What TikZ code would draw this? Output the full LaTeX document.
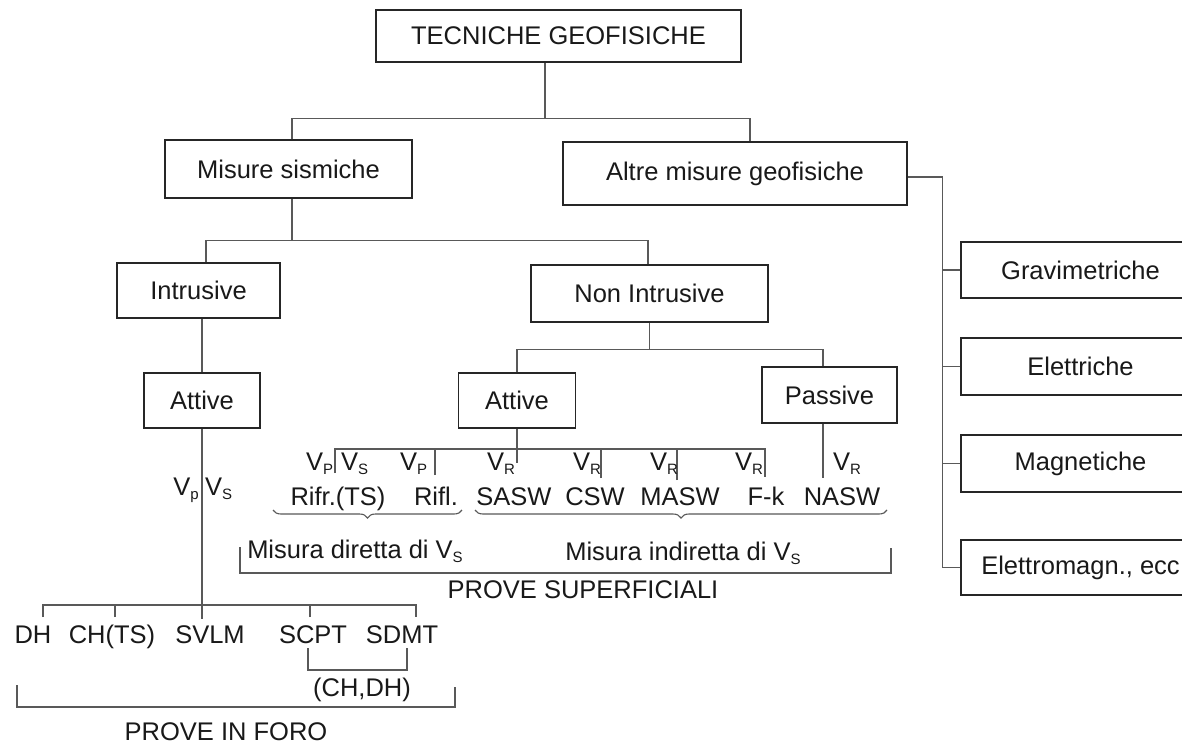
\documentclass[tikz,border=0pt]{standalone}
\usepackage{fontspec}
\setmainfont{Liberation Sans}
\usetikzlibrary{decorations.pathreplacing}
\newcommand{\sbx}[1]{\raisebox{-4pt}{\fontsize{15}{15}\selectfont #1}}
\begin{document}
\begin{tikzpicture}[x=1pt,y=-1pt,
  box/.style={draw=black!85,line width=1.5pt,inner sep=0pt,font=\fontsize{25.5}{30}\selectfont,text=black!90},
  lbl/.style={inner sep=0pt,font=\fontsize{25.5}{30}\selectfont,text=black!90},
  conn/.style={draw=black!65,line width=1.1pt},
  brc/.style={conn,decorate,decoration={brace,mirror,amplitude=8pt}}]
\clip (0,0) rectangle (1182,745);
\fill[white] (0,0) rectangle (1182,745);

% boxes
\node[box,minimum width=365,minimum height=52] (tg) at (558.5,36) {TECNICHE GEOFISICHE};
\node[box,minimum width=247,minimum height=58] (ms) at (288.5,169) {Misure sismiche};
\node[box,minimum width=344,minimum height=63] (am) at (735,173.5) {Altre misure geofisiche};
\node[box,minimum width=163,minimum height=55] (intr) at (198.5,290.5) {Intrusive};
\node[box,minimum width=237,minimum height=57] (ni) at (649.5,293.5) {Non Intrusive};
\node[box,minimum width=116,minimum height=55] (at1) at (202,400.5) {Attive};
\node[box,minimum width=117,minimum height=55] (at2) at (517,400.5) {Attive};
\node[box,minimum width=135,minimum height=56] (pa) at (829.5,395) {Passive};
\node[box,minimum width=239,minimum height=56] (gr) at (1080.5,270) {Gravimetriche};
\node[box,minimum width=239,minimum height=57] (el) at (1080.5,366.5) {Elettriche};
\node[box,minimum width=239,minimum height=57] (mg) at (1080.5,463.5) {Magnetiche};
\node[box,minimum width=239,minimum height=55] (em) at (1080.5,567.5) {Elettromagn., ecc};

% top level connectors
\draw[conn] ([xshift=-13.5pt]tg.south) -- ++(0,56) coordinate (j1);
\draw[conn] ([xshift=3.5pt]ms.north) |- (j1) -| ([xshift=15pt]am.north);
\draw[conn] ([xshift=3.5pt]ms.south) -- ++(0,42) coordinate (j2);
\draw[conn] ([xshift=7.5pt]intr.north) |- (j2) -| ([xshift=-1.5pt]ni.north);
\draw[conn] ([yshift=-3.5pt]am.east) -- ++(35,0) coordinate (j3);
\draw[conn] (j3) |- (em.west);
\draw[conn] (gr.west) -- (gr.west -| j3);
\draw[conn] (el.west) -- (el.west -| j3);
\draw[conn] (mg.west) -- (mg.west -| j3);
\draw[conn] (at1.north) -- (at1.north |- intr.south);
\draw[conn] (ni.south) -- ++(0,27) coordinate (j4);
\draw[conn] (at2.north) |- (j4) -| ([xshift=-6.5pt]pa.north);

% left branch: prove in foro
\coordinate (lb) at (202,605);
\coordinate (t1) at (43,617);
\coordinate (t2) at (115,617);
\coordinate (t3) at (202,619);
\coordinate (t4) at (310,617);
\coordinate (t5) at (416,617);
\draw[conn] (at1.south) -- (t3);
\draw[conn] (t1) |- (lb) -| (t5);
\draw[conn] (t2) -- (t2 |- lb);
\draw[conn] (t4) -- (t4 |- lb);
\node[lbl,anchor=base east] (vpl) at (199,495) {V\sbx{p}};
\node[lbl,anchor=base west] (vsl) at (205,495) {V\sbx{S}};
\node[lbl,anchor=base] (dh) at (33,643) {DH};
\node[lbl,anchor=base] (ch) at (112,643) {CH(TS)};
\node[lbl,anchor=base] (svlm) at (210,643) {SVLM};
\node[lbl,anchor=base] (scpt) at (313,643) {SCPT};
\node[lbl,anchor=base] (sdmt) at (402,643) {SDMT};
\coordinate (c1) at (308,648);
\coordinate (c2) at (407,648);
\draw[conn] (c1) -- ++(0,22) -| (c2);
\node[lbl] (chdh) at (362,690) {(CH,DH)};
\coordinate (f1) at (17,685);
\coordinate (f2) at (455,687);
\draw[conn] (f1) |- (455,707) -- (f2);
\node[lbl] (pif) at (226,732) {PROVE IN FORO};

% middle branch: prove superficiali
\coordinate (mb) at (517,449);
\coordinate (m1) at (335,473);
\coordinate (m2) at (435,475);
\coordinate (m3) at (517,463);
\coordinate (m4) at (601,478);
\coordinate (m5) at (677,480);
\coordinate (m6) at (765,477);
\draw[conn] (at2.south) -- (m3);
\draw[conn] (m1) |- (mb) -| (m6);
\draw[conn] (m2) -- (m2 |- mb);
\draw[conn] (m4) -- (m4 |- mb);
\draw[conn] (m5) -- (m5 |- mb);
\draw[conn] ([xshift=-6.5pt]pa.south) -- ++(0,54);

\node[lbl,anchor=base west] (v1) at (306,470) {V\sbx{P}};
\node[lbl,anchor=base west] (v2) at (341,470) {V\sbx{S}};
\node[lbl,anchor=base west] (v3) at (400,470) {V\sbx{P}};
\node[lbl,anchor=base west] (v4) at (487,470) {V\sbx{R}};
\node[lbl,anchor=base west] (v5) at (573,470) {V\sbx{R}};
\node[lbl,anchor=base west] (v6) at (650,470) {V\sbx{R}};
\node[lbl,anchor=base west] (v7) at (735,470) {V\sbx{R}};
\node[lbl,anchor=base west] (v8) at (833,470) {V\sbx{R}};

\node[lbl,anchor=base] (rifr) at (338,505) {Rifr.(TS)};
\node[lbl,anchor=base] (rifl) at (436,505) {Rifl.};
\node[lbl,anchor=base] (sasw) at (514,505) {SASW};
\node[lbl,anchor=base] (csw) at (595,505) {CSW};
\node[lbl,anchor=base] (masw) at (680,505) {MASW};
\node[lbl,anchor=base] (fk) at (766,505) {F-k};
\node[lbl,anchor=base] (nasw) at (842,505) {NASW};

\draw[brc] (273,510) -- (462,510);
\draw[brc] (475,510) -- (887,510);
\node[lbl,anchor=base] (mdir) at (355,558) {Misura diretta di V\sbx{S}};
\node[lbl,anchor=base] (mind) at (683,560) {Misura indiretta di V\sbx{S}};
\coordinate (s1) at (240,547);
\coordinate (s2) at (891,548);
\draw[conn] (s1) |- (891,573) -- (s2);
\node[lbl] (psup) at (583,590) {PROVE SUPERFICIALI};
\end{tikzpicture}
\end{document}
